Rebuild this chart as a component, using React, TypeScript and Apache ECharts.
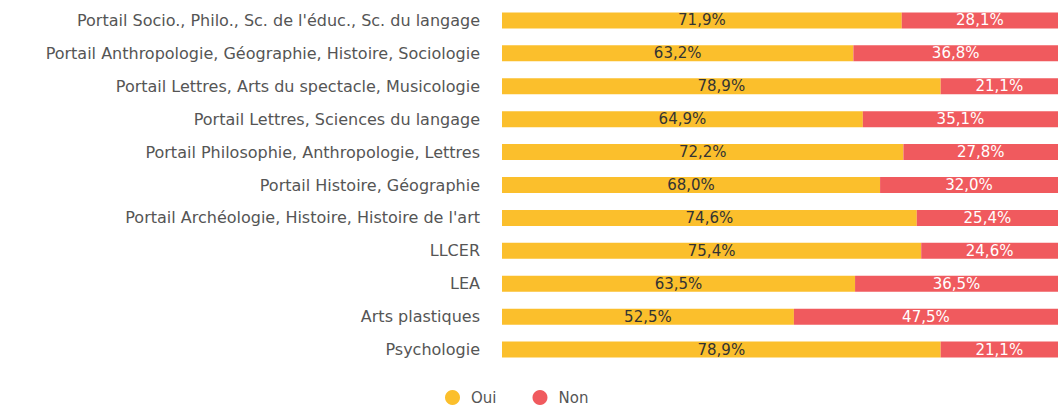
import React, { useEffect, useRef } from "react";
import * as echarts from "echarts";

const categories = [
  "Portail Socio., Philo., Sc. de l'éduc., Sc. du langage",
  "Portail Anthropologie, Géographie, Histoire, Sociologie",
  "Portail Lettres, Arts du spectacle, Musicologie",
  "Portail Lettres, Sciences du langage",
  "Portail Philosophie, Anthropologie, Lettres",
  "Portail Histoire, Géographie",
  "Portail Archéologie, Histoire, Histoire de l'art",
  "LLCER",
  "LEA",
  "Arts plastiques",
  "Psychologie",
];
const oui = [71.9, 63.2, 78.9, 64.9, 72.2, 68.0, 74.6, 75.4, 63.5, 52.5, 78.9];
const non = [28.1, 36.8, 21.1, 35.1, 27.8, 32.0, 25.4, 24.6, 36.5, 47.5, 21.1];

const FONT = "Tahoma, 'DejaVu Sans', Verdana, sans-serif";
const fmt = (v: number) => v.toFixed(1).replace(".", ",") + "%";

export default function App() {
  const ref = useRef<HTMLDivElement>(null);
  useEffect(() => {
    const chart = echarts.init(ref.current!, null, { renderer: "svg" });
    chart.setOption({
      animation: false,
      textStyle: { fontFamily: FONT },
      grid: { left: 502, right: 1, top: 4, bottom: 41, containLabel: false },
      xAxis: {
        type: "value",
        min: 0,
        max: 100,
        show: false,
      },
      yAxis: {
        type: "category",
        data: categories,
        inverse: true,
        axisLine: { show: false },
        axisTick: { show: false },
        axisLabel: { color: "#555", fontSize: 16, margin: 22, fontFamily: FONT },
      },
      legend: {
        top: 390,
        left: 445,
        padding: 0,
        icon: "circle",
        itemWidth: 15,
        itemHeight: 15,
        itemGap: 36,
        textStyle: { color: "#555", fontSize: 15, fontFamily: FONT, padding: [0, 0, 0, 6] },
        data: ["Oui", "Non"],
      },
      series: [
        {
          name: "Oui",
          type: "bar",
          stack: "t",
          data: oui,
          barWidth: 16,
          itemStyle: { color: "#FBBF2C" },
          label: {
            show: true,
            position: "inside",
            color: "#333",
            fontSize: 15,
            fontFamily: FONT,
            formatter: (p: any) => fmt(p.value),
          },
        },
        {
          name: "Non",
          type: "bar",
          stack: "t",
          data: non,
          barWidth: 16,
          itemStyle: { color: "#F05A5E" },
          label: {
            show: true,
            position: "inside",
            color: "#fff",
            fontSize: 15,
            fontFamily: FONT,
            formatter: (p: any) => fmt(p.value),
          },
        },
      ],
    });
    return () => chart.dispose();
  }, []);
  return (
    <div
      ref={ref}
      style={{ position: "absolute", left: 0, top: 0, width: 1059, height: 407, background: "#fff" }}
    />
  );
}
